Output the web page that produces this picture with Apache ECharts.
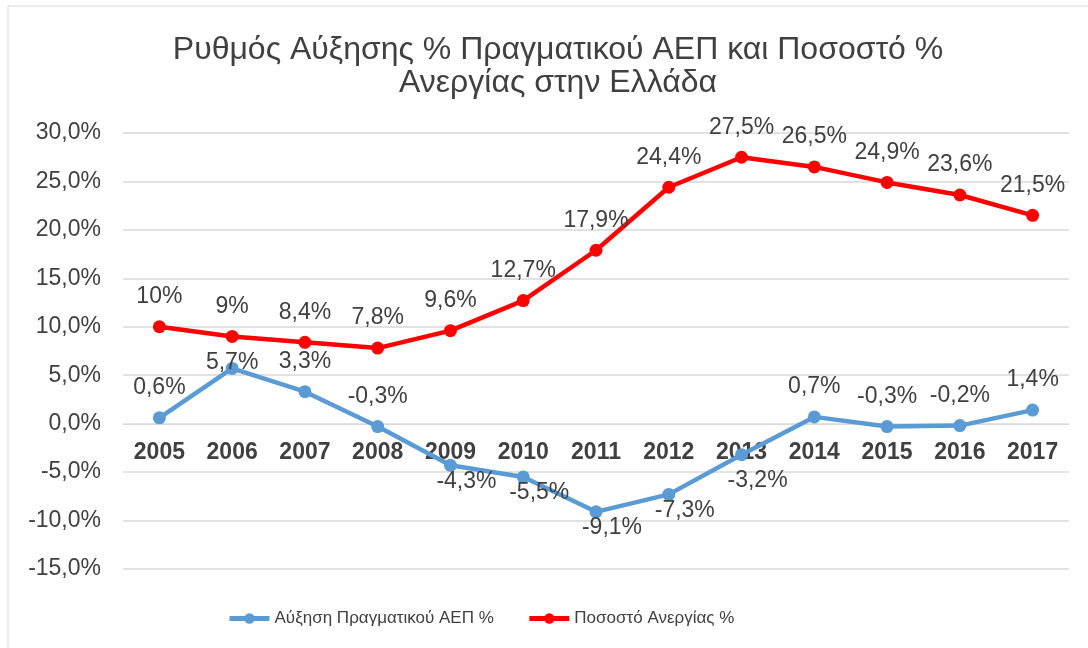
<!DOCTYPE html>
<html>
<head>
<meta charset="utf-8">
<script src="https://cdn.jsdelivr.net/npm/echarts@6/dist/echarts.min.js"></script>
<style>
  html, body { margin: 0; padding: 0; background: #fff; }
  #main { width: 1088px; height: 648px; }
</style>
</head>
<body>
<div id="main"></div>
<script>
  var years = ['2005','2006','2007','2008','2009','2010','2011','2012','2013','2014','2015','2016','2017'];
  var gdpGrowth = [0.6, 5.7, 3.3, -0.3, -4.3, -5.5, -9.1, -7.3, -3.2, 0.7, -0.3, -0.2, 1.4];
  var unemployment = [10, 9, 8.4, 7.8, 9.6, 12.7, 17.9, 24.4, 27.5, 26.5, 24.9, 23.6, 21.5];
  var gdpName = 'Αύξηση Πραγματικού ΑΕΠ %';
  var unempName = 'Ποσοστό Ανεργίας %';

  var font = '"Liberation Sans", Arial, sans-serif';
  var textColor = '#404040';

  function pct(v){ return String(v).replace('.', ',') + '%'; }

  // τα αρνητικά σημεία του ΑΕΠ έχουν ετικέτα από κάτω
  var gdpData = gdpGrowth.map(function(v, i){
    var item = { value: v };
    if (v < -1) {
      item.label = { position: 'bottom', distance: v > -4 ? 8 : -2, offset: [16, 0] };
    } else if (i === 1) {
      item.label = { offset: [0, 24] };
    }
    return item;
  });

  var chart = echarts.init(document.getElementById('main'));
  var option = {
    backgroundColor: '#fff',
    animation: false,
    graphic: [{
      type: 'rect',
      shape: { x: 8, y: 6, width: 1200, height: 800 },
      style: { fill: 'none', stroke: '#d9d9d9', lineWidth: 1 }
    }],
    title: {
      text: 'Ρυθμός Αύξησης % Πραγματικού ΑΕΠ και Ποσοστό %\nΑνεργίας στην Ελλάδα',
      left: 553,
      top: 29,
      textAlign: 'center',
      textStyle: { fontFamily: font, fontSize: 32, fontWeight: 'normal', color: textColor, lineHeight: 33 }
    },
    legend: {
      data: [gdpName, unempName],
      top: 605,
      left: 222,
      itemWidth: 40,
      itemHeight: 13,
      itemGap: 33,
      lineStyle: { width: 5 },
      textStyle: { fontFamily: font, fontSize: 17, color: textColor }
    },
    grid: { left: 123, right: 19, top: 133, bottom: 79 },
    xAxis: {
      type: 'category',
      data: years,
      boundaryGap: true,
      offset: -145,
      axisLine: { show: true, onZero: false, lineStyle: { color: '#d9d9d9', width: 1 } },
      axisTick: { show: false },
      axisLabel: { margin: 17, fontFamily: font, fontSize: 23, fontWeight: 'bold', color: textColor }
    },
    yAxis: {
      type: 'value',
      min: -15,
      max: 30,
      interval: 5,
      axisLine: { show: false },
      axisTick: { show: false },
      splitLine: { lineStyle: { color: '#d9d9d9', width: 1.5 } },
      axisLabel: {
        margin: 22,
        fontFamily: font,
        fontSize: 23,
        color: textColor,
        formatter: function(v){ return v.toFixed(1).replace('.', ',') + '%'; }
      }
    },
    series: [
      {
        name: gdpName,
        type: 'line',
        data: gdpData,
        symbol: 'circle',
        symbolSize: 13,
        itemStyle: { color: '#5b9bd5' },
        lineStyle: { color: '#5b9bd5', width: 4.5 },
        label: {
          show: true,
          position: 'top',
          distance: 12,
          fontFamily: font,
          fontSize: 23,
          color: textColor,
          formatter: function(p){ return pct(p.value); }
        },
        z: 3
      },
      {
        name: unempName,
        type: 'line',
        data: unemployment,
        symbol: 'circle',
        symbolSize: 13,
        itemStyle: { color: '#ff0000' },
        lineStyle: { color: '#ff0000', width: 4.5 },
        label: {
          show: true,
          position: 'top',
          distance: 12,
          fontFamily: font,
          fontSize: 23,
          color: textColor,
          formatter: function(p){ return pct(p.value); }
        },
        z: 3
      }
    ]
  };
  chart.setOption(option);
</script>
</body>
</html>
